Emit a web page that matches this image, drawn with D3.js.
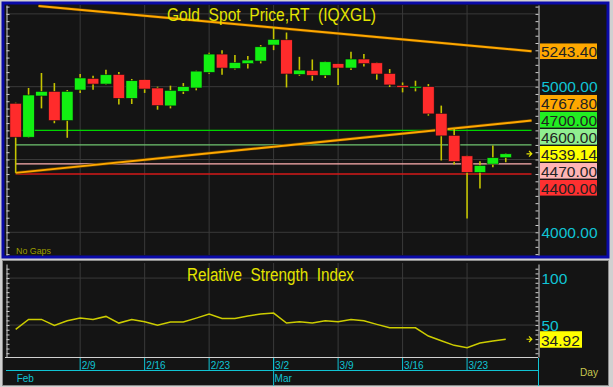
<!DOCTYPE html>
<html><head><meta charset="utf-8">
<script src="https://cdn.jsdelivr.net/npm/d3@7"></script>
<style>
html,body{margin:0;padding:0;background:#d0d0d0;overflow:hidden}
svg{display:block;font-family:"Liberation Sans",Arial,sans-serif}
</style></head><body><svg id="c" width="613" height="387"></svg>
<script>
// ---------------- data ----------------
const dates = ["2/2","2/3","2/4","2/5","2/6","2/9","2/10","2/11","2/12","2/13",
  "2/16","2/17","2/18","2/19","2/20","2/23","2/24","2/25","2/26","2/27",
  "3/2","3/3","3/4","3/5","3/6","3/9","3/10","3/11","3/12","3/13",
  "3/16","3/17","3/18","3/19","3/20","3/23","3/24","3/25","3/26"];
const open  = [4886,4653,4936,4968,4767,4977,5057,5018,5084,4920,5048,4991,4868,4968,4991,5098,5224,5125,5158,5176,
  5286,5322,5084,5112,5077,5158,5128,5190,5164,5091,5009,4993,5000,4817,4666,4525,4411,4468,4512];
const high  = [4890,4991,5094,5025,4977,5087,5075,5116,5101,5053,5050,5000,5007,5025,5110,5233,5251,5217,5210,5286,
  5410,5372,5205,5187,5173,5160,5240,5224,5166,5121,5029,5041,5018,4870,4717,4527,4488,4596,4543];
const low   = [4408,4650,4851,4749,4649,4957,4979,5015,4877,4881,4957,4842,4851,4950,4975,5089,5082,5118,5125,5160,
  5251,4995,5075,5041,5060,5012,5114,5139,5048,4998,4961,4968,4801,4493,4466,4094,4301,4447,4481];
const close = [4653,4943,4968,4767,4968,5060,5018,5082,4920,5041,4984,4870,4975,5000,5107,5224,5128,5166,5183,5274,
  5325,5087,5114,5077,5171,5128,5190,5158,5087,5012,4995,5002,4813,4662,4486,4411,4459,4512,4539.14];
const rsi = [45.4,56.0,56.0,49.7,54.6,57.4,56.0,59.2,52.1,56.0,53.5,49.7,53.2,53.2,57.4,61.7,57.1,57.1,59.6,61.7,
  62.8,52.1,53.5,52.1,54.6,53.5,56.0,54.6,50.7,47.1,47.1,47.1,38.3,33.3,28.4,25.9,30.9,33.0,34.92];

const weekTickIdx = [5,10,15,20,25,30,35];
const weekTickLabels = ["2/9","2/16","2/23","3/2","3/9","3/16","3/23"];
const monthIdx = [0,20];
const monthLabels = ["Feb","Mar"];

const priceGrid = [4000,4500,5000,5500];
const priceAxisLabels = [4000,5000];
const rsiGrid = [50,100];
const rsiAxisLabels = [50,100];

const levelValues = [4700,4600,4470,4400];
const levelColors = ["#00d400","#6fc46f","#ffb0b0","#d41818"];
const levelBoxColors = ["#22ee22","#90ee90","#ffb4b4","#ff3030"];

const upperTrendIdx = [1.77,40];
const upperTrendPrice = [5554,5243.40];
const lowerTrendIdx = [0,40];
const lowerTrendPrice = [4408,4767.80];

const title = "Gold  Spot  Price,RT  (IQXGL)";
const rsiTitle = "Relative  Strength  Index";

// ---------------- drawing ----------------
const svg = d3.select("#c");
const CYAN = "#10c4d4", YEL = "#e4e400", AXC = "#d0d0d0", GRID = "#3a3a3a";
const GREEN = "#12f012", RED = "#ff2b2b", WICK = "#c4c400";
const L = 6, R = 538;

const x = d3.scaleLinear().domain([-0.75, 40.5]).range([L, R]);
const y = d3.scaleLinear().domain([3844, 5561]).range([255, 5]);
const yR = d3.scaleLinear().domain([16, 115]).range([357, 264]);

svg.append("rect").attr("width",613).attr("height",387).attr("fill","#d0d0d0");
// top panel
svg.append("rect").attr("x",3).attr("y",3).attr("width",605).attr("height",254)
  .attr("fill","#141414").attr("stroke","#0a0aa8").attr("stroke-width",3);
// bottom panel
svg.append("rect").attr("x",2.5).attr("y",260.5).attr("width",606).attr("height",125)
  .attr("fill","#141414").attr("stroke","#8a8a8a").attr("stroke-width",1);

// ---- top plot ----
const topG = svg.append("g");
topG.selectAll(".vg").data(weekTickIdx).join("line")
  .attr("x1",d=>x(d)).attr("x2",d=>x(d)).attr("y1",5).attr("y2",255)
  .attr("stroke",GRID).attr("stroke-width",1);
topG.selectAll(".hg").data(priceGrid).join("line")
  .attr("x1",L).attr("x2",R).attr("y1",d=>y(d)).attr("y2",d=>y(d))
  .attr("stroke",GRID).attr("stroke-width",1);

// level lines
topG.selectAll(".lvl").data(levelValues).join("line")
  .attr("x1",x(0)).attr("x2",x(40)).attr("y1",d=>y(d)).attr("y2",d=>y(d))
  .attr("stroke",(d,i)=>levelColors[i]).attr("stroke-width",1.4);

// trend lines
const tl = d3.line().x(d=>x(d[0])).y(d=>y(d[1]));
[[upperTrendIdx,upperTrendPrice],[lowerTrendIdx,lowerTrendPrice]].forEach(([ix,pr])=>{
  const pts = ix.map((v,i)=>[v,pr[i]]);
  topG.append("path").attr("d",tl(pts)).attr("fill","none")
    .attr("stroke","#5a3a00").attr("stroke-width",3.2);
  topG.append("path").attr("d",tl(pts)).attr("fill","none")
    .attr("stroke","#ffa800").attr("stroke-width",2);
});

// candles
const cg = topG.append("g");
cg.selectAll(".wick").data(dates).join("line")
  .attr("x1",(d,i)=>x(i)).attr("x2",(d,i)=>x(i))
  .attr("y1",(d,i)=>y(high[i])).attr("y2",(d,i)=>y(low[i]))
  .attr("stroke",WICK).attr("stroke-width",1.6);
const bw = (x(1)-x(0))*0.9;
cg.selectAll(".body").data(dates).join("rect")
  .attr("x",(d,i)=>x(i)-bw/2).attr("width",bw)
  .attr("y",(d,i)=>y(Math.max(open[i],close[i])))
  .attr("height",(d,i)=>Math.max(1.6, Math.abs(y(open[i])-y(close[i]))))
  .attr("fill",(d,i)=>close[i]>=open[i]?GREEN:RED)
  .attr("stroke","#101010").attr("stroke-width",0.6);

// axes (tick marks only)
const minorP = d3.range(3850, 5551, 50);
const la = svg.append("g").attr("transform","translate(6.5,0)")
  .call(d3.axisRight(y).tickValues(minorP).tickSize(3).tickSizeOuter(0).tickFormat(""));
const ra = svg.append("g").attr("transform","translate(538.5,0)")
  .call(d3.axisLeft(y).tickValues(minorP).tickSize(3).tickSizeOuter(0).tickFormat(""));
[la,ra].forEach(g=>{g.selectAll("line").attr("stroke",AXC);g.select(".domain").attr("stroke",AXC);});

// price axis labels
const pl = svg.append("g").attr("transform","translate(538.5,0)")
  .call(d3.axisRight(y).tickValues(priceAxisLabels).tickSize(0).tickPadding(3).tickFormat(d3.format(".2f")));
pl.select(".domain").remove();
pl.selectAll("text").attr("fill",CYAN).attr("font-size",15.5).attr("font-family","Liberation Sans, Arial");

// title
svg.append("text").attr("x",167).attr("y",21).attr("font-size",18)
  .attr("textLength",209).attr("lengthAdjust","spacingAndGlyphs")
  .attr("fill",YEL).style("white-space","pre").text(title);
svg.append("text").attr("x",16).attr("y",254).attr("font-size",9)
  .attr("textLength",35).attr("lengthAdjust","spacingAndGlyphs")
  .attr("fill","#9c9c00").text("No Gaps");

// right-side value boxes (stacked around current price)
const last = close[close.length-1];
const boxes = [
  {v:upperTrendPrice[1], c:"#ffa800"},
  {v:lowerTrendPrice[1], c:"#ffa800"},
  {v:levelValues[0], c:levelBoxColors[0]},
  {v:levelValues[1], c:levelBoxColors[1]},
  {v:last, c:"#ffff00"},
  {v:levelValues[2], c:levelBoxColors[2]},
  {v:levelValues[3], c:levelBoxColors[3]}
].sort((a,b)=>b.v-a.v);
const GAP = 17;
const ai = boxes.findIndex(b=>b.v===last);
boxes.forEach(b=>b.y=y(b.v));
for(let i=ai-1;i>=0;i--) boxes[i].y = Math.min(boxes[i].y, boxes[i+1].y-GAP);
for(let i=ai+1;i<boxes.length;i++) boxes[i].y = Math.max(boxes[i].y, boxes[i-1].y+GAP);
const bg = svg.append("g");
bg.selectAll("rect").data(boxes).join("rect")
  .attr("x",540).attr("width",57).attr("y",d=>d.y-7.8).attr("height",15.6).attr("fill",d=>d.c);
bg.selectAll("text").data(boxes).join("text")
  .attr("x",541).attr("y",d=>d.y+6).attr("font-size",15.5).attr("fill","#222")
  .text(d=>d3.format(".2f")(d.v));

function arrow(yy){
  svg.append("path").attr("d",`M526.5,${yy} h5 M529,${yy-2.8} l2.8,2.8 l-2.8,2.8`)
    .attr("stroke",YEL).attr("stroke-width",1.2).attr("fill","none");
}
arrow(y(last));

// ---- RSI panel ----
const bot = svg.append("g");
bot.selectAll(".vg").data(weekTickIdx).join("line")
  .attr("x1",d=>x(d)).attr("x2",d=>x(d)).attr("y1",263).attr("y2",357)
  .attr("stroke",GRID);
bot.selectAll(".hg").data(rsiGrid).join("line")
  .attr("x1",L).attr("x2",R).attr("y1",d=>yR(d)).attr("y2",d=>yR(d))
  .attr("stroke",GRID);
bot.append("path").datum(rsi)
  .attr("d",d3.line().x((d,i)=>x(i)).y(d=>yR(d)))
  .attr("fill","none").attr("stroke","#cccc00").attr("stroke-width",1.5);

const minorR = d3.range(20, 115, 5);
const lra = svg.append("g").attr("transform","translate(6.5,0)")
  .call(d3.axisRight(yR).tickValues(minorR).tickSize(3).tickSizeOuter(0).tickFormat(""));
const rra = svg.append("g").attr("transform","translate(538.5,0)")
  .call(d3.axisLeft(yR).tickValues(minorR).tickSize(3).tickSizeOuter(0).tickFormat(""));
[lra,rra].forEach(g=>{g.selectAll("line").attr("stroke",AXC);g.select(".domain").attr("stroke",AXC);});

const rl = svg.append("g").attr("transform","translate(538.5,0)")
  .call(d3.axisRight(yR).tickValues(rsiAxisLabels).tickSize(0).tickPadding(3).tickFormat(d3.format("d")));
rl.select(".domain").remove();
rl.selectAll("text").attr("fill",CYAN).attr("font-size",15.5).attr("font-family","Liberation Sans, Arial");

svg.append("text").attr("x",187).attr("y",281).attr("font-size",18)
  .attr("textLength",167).attr("lengthAdjust","spacingAndGlyphs")
  .attr("fill",YEL).style("white-space","pre").text(rsiTitle);

const lastR = rsi[rsi.length-1];
svg.append("rect").attr("x",540).attr("width",42).attr("y",yR(lastR)-8).attr("height",16.5).attr("fill","#ffff00");
svg.append("text").attr("x",541).attr("y",yR(lastR)+6.3).attr("font-size",15.5).attr("fill","#222")
  .text(d3.format(".2f")(lastR));
arrow(yR(lastR));

// panel frame lines
svg.append("line").attr("x1",5).attr("x2",R).attr("y1",357.5).attr("y2",357.5).attr("stroke",AXC);

// ---- date axis ----
const xa = svg.append("g");
xa.selectAll(".wt").data(weekTickIdx).join("line")
  .attr("x1",d=>x(d)).attr("x2",d=>x(d)).attr("y1",358).attr("y2",370)
  .attr("stroke",CYAN);
xa.append("line").attr("x1",L).attr("x2",R).attr("y1",370.5).attr("y2",370.5).attr("stroke",CYAN);
xa.selectAll(".mt").data(monthIdx.filter(d=>d>0)).join("line")
  .attr("x1",d=>x(d)).attr("x2",d=>x(d)).attr("y1",358).attr("y2",386).attr("stroke",CYAN);
xa.append("line").attr("x1",538.5).attr("x2",538.5).attr("y1",358).attr("y2",386).attr("stroke",CYAN);
xa.selectAll(".wl").data(weekTickIdx).join("text")
  .attr("x",d=>x(d)+1.5).attr("y",369).attr("font-size",10).attr("fill",CYAN)
  .text((d,i)=>weekTickLabels[i]);
xa.selectAll(".ml").data(monthIdx).join("text")
  .attr("x",d=>x(d)+1).attr("y",382).attr("font-size",10).attr("fill",CYAN)
  .text((d,i)=>monthLabels[i]);
svg.append("text").attr("x",580).attr("y",376).attr("font-size",11)
  .attr("textLength",18).attr("lengthAdjust","spacingAndGlyphs")
  .attr("fill","#c8c850").text("Day");
</script></body></html>
